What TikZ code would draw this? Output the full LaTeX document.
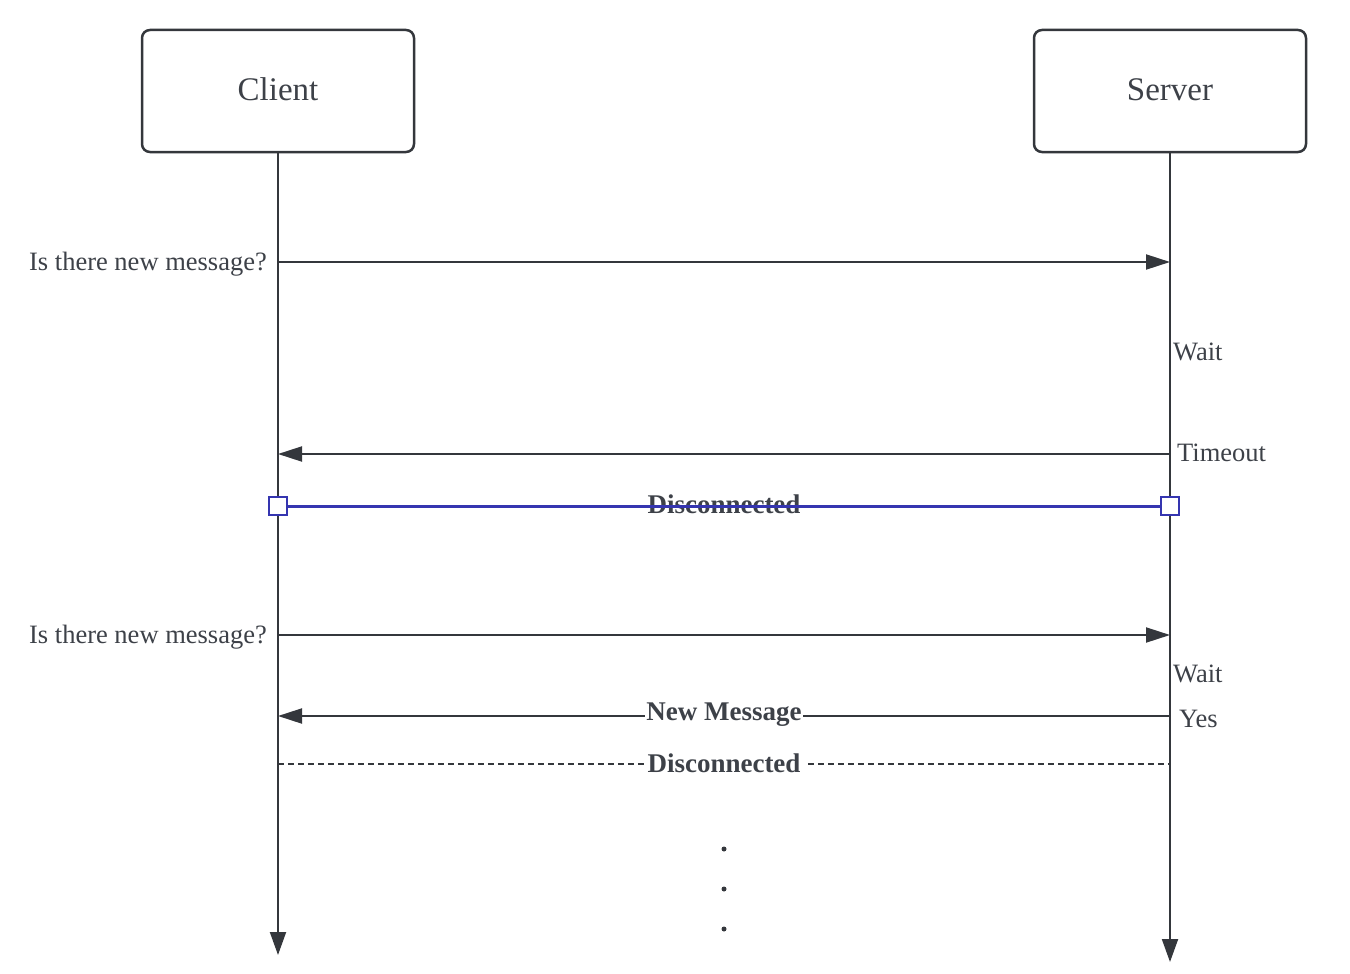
\documentclass[tikz,border=0pt]{standalone}
\usepackage{fontspec}
\setmainfont{Liberation Serif}
\usetikzlibrary{arrows.meta}
\definecolor{ink}{HTML}{34373C}
\definecolor{txt}{HTML}{3D4148}
\definecolor{selblue}{HTML}{3535B0}
\tikzset{
  actor/.style={draw=ink,line width=2.5pt,rounded corners=8pt,minimum width=272pt,minimum height=122pt,inner sep=0pt,font=\fontsize{33}{36}\selectfont,text=txt},
  lifeline/.style={draw=ink,line width=2pt,-{Triangle[length=23pt,width=16pt]}},
  msg/.style={draw=ink,line width=2pt,-{Triangle[length=24pt,width=15pt]}},
  lbl/.style={font=\fontsize{26.5}{30}\selectfont,text=txt,inner sep=0pt},
  boldlbl/.style={font=\bfseries\fontsize{27}{30}\selectfont,text=txt,inner sep=1pt},
  handle/.style={draw=selblue,line width=2.5pt,fill=white,minimum size=18pt,inner sep=0pt},
  dot/.style={circle,fill=ink,inner sep=0pt,minimum size=5pt}
}
\begin{document}
\begin{tikzpicture}[x=1pt,y=-1pt]
\useasboundingbox (0,0) rectangle (1350,974);
\node[actor] (client) at (278,91) {\raisebox{3pt}{Client}};
\node[actor] (server) at (1170,91) {\raisebox{3pt}{Server}};
\coordinate (cend) at (278,955);
\coordinate (send) at (1170,962);
\draw[lifeline] (client.south) -- (cend);
\draw[lifeline] (server.south) -- (send);
% message 1
\coordinate (c1) at (278,262); \coordinate (s1) at (1170,262);
\draw[msg] (c1) -- (s1);
\node[lbl,anchor=east] (q1) at (267,264) {Is there new message?};
\node[lbl,anchor=west] (w1) at (1173,352) {Wait};
% message 2
\coordinate (c2) at (278,454); \coordinate (s2) at (1170,454);
\draw[msg] (s2) -- (c2);
\node[lbl,anchor=west] (to) at (1177,453) {Timeout};
% disconnected (selected)
\coordinate (c3) at (278,506); \coordinate (s3) at (1170,506);
\node[boldlbl] (d1) at (724,504) {Disconnected};
\draw[selblue,line width=3pt] (c3) -- (s3);
\node[handle] (h1) at (c3) {};
\node[handle] (h2) at (s3) {};
% message 3
\coordinate (c4) at (278,635); \coordinate (s4) at (1170,635);
\draw[msg] (c4) -- (s4);
\node[lbl,anchor=east] (q2) at (267,637) {Is there new message?};
\node[lbl,anchor=west] (w2) at (1173,674) {Wait};
% message 4
\coordinate (c5) at (278,716); \coordinate (s5) at (1170,716);
\draw[msg] (s5) -- (c5);
\node[boldlbl,fill=white] (nm) at (724,715) {New Message};
\node[lbl,anchor=west] (yes) at (1179,719) {Yes};
% disconnected dashed
\coordinate (c6) at (278,764); \coordinate (s6) at (1170,764);
\draw[ink,line width=1.5pt,dash pattern=on 6pt off 4pt] (c6) -- (s6);
\node[boldlbl,fill=white,inner sep=4pt] (d2) at (724,763) {Disconnected};
% dots
\node[dot] (p1) at (724,849) {};
\node[dot] (p2) at (724,889) {};
\node[dot] (p3) at (724,929) {};
\end{tikzpicture}
\end{document}
